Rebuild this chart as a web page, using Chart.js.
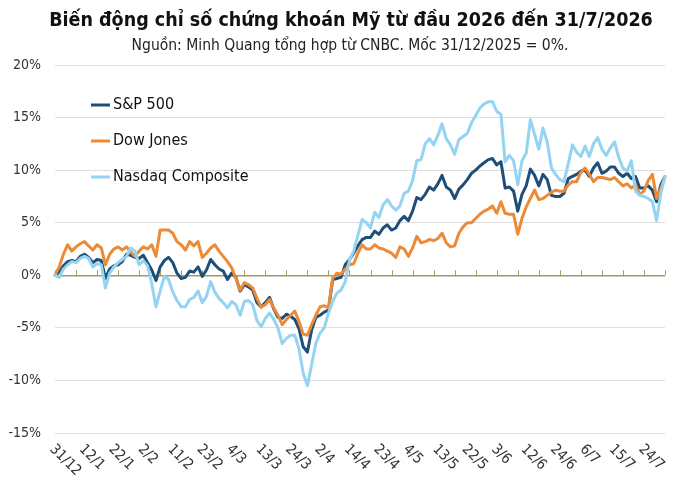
<!DOCTYPE html>
<html lang="vi">
<head>
<meta charset="utf-8">
<title>Biến động chỉ số chứng khoán Mỹ</title>
<script src="https://cdn.jsdelivr.net/npm/chart.js@4.4.1/dist/chart.umd.min.js"></script>
<style>
  html, body { margin: 0; padding: 0; background: #fff; }
  #khung { width: 700px; height: 490px; position: relative; }
</style>
</head>
<body>
<div id="khung"><canvas id="bieudo"></canvas></div>
<script>
// nhan truc hoanh, moi nhan cach nhau 7 phien
const nhanTruc = ["31/12", "12/1", "22/1", "2/2", "11/2", "23/2", "4/3", "13/3", "24/3", "2/4",
    "14/4", "23/4", "4/5", "13/5", "22/5", "3/6", "12/6", "24/6", "6/7", "15/7", "24/7"];
const buocNhan = 7;
const buocVach = 5;

const tenChuoi = ["S&P 500", "Dow Jones", "Nasdaq Composite"];

// % thay doi so voi 31/12/2025
const sp500 = [
    0, 0.3, 0.9, 1.3, 1.4, 1.3, 1.8, 2.0, 1.7, 1.2,
    1.5, 1.4, -0.3, 0.6, 0.9, 1.0, 1.3, 2.0, 1.9, 1.7,
    1.6, 1.9, 1.2, 0.5, -0.5, 0.8, 1.4, 1.7, 1.2, 0.2,
    -0.3, -0.2, 0.4, 0.3, 0.8, -0.1, 0.5, 1.5, 1.0, 0.6,
    0.4, -0.4, 0.2, -0.2, -1.5, -0.9, -1.1, -1.4, -2.6, -3.0,
    -2.6, -2.1, -3.2, -4.0, -4.1, -3.7, -3.9, -4.2, -5.1, -6.8,
    -7.3, -5.2, -4.0, -3.8, -3.5, -3.3, -0.4, -0.3, -0.2, 1.0,
    1.5, 2.1, 2.8, 3.4, 3.6, 3.6, 4.2, 3.9, 4.5, 4.8,
    4.3, 4.5, 5.2, 5.6, 5.2, 6.1, 7.4, 7.2, 7.7, 8.4,
    8.1, 8.7, 9.5, 8.4, 8.1, 7.3, 8.2, 8.6, 9.1, 9.7,
    10.0, 10.4, 10.7, 11.0, 11.1, 10.5, 10.8, 8.3, 8.4, 8.0,
    6.1, 7.7, 8.5, 10.1, 9.5, 8.5, 9.6, 9.1, 7.6, 7.5,
    7.5, 7.8, 9.2, 9.4, 9.6, 9.9, 10.0, 9.4, 10.2, 10.7,
    9.7, 9.9, 10.3, 10.3, 9.7, 9.4, 9.7, 9.2, 9.4, 8.3,
    8.3, 8.5, 8.1, 7.0, 8.6, 9.4
];
const dowJones = [
    0, 0.8, 2.0, 2.9, 2.3, 2.7, 3.0, 3.2, 2.8, 2.4,
    2.9, 2.6, 1.0, 2.0, 2.5, 2.7, 2.4, 2.7, 2.2, 1.8,
    2.3, 2.7, 2.5, 2.9, 1.8, 4.3, 4.3, 4.3, 4.0, 3.2,
    2.9, 2.4, 3.2, 2.8, 3.2, 1.7, 2.1, 2.6, 2.9, 2.3,
    1.8, 1.3, 0.7, -0.3, -1.4, -0.7, -0.9, -1.2, -2.2, -3.0,
    -2.8, -2.3, -3.1, -3.8, -4.7, -4.2, -3.8, -3.4, -4.4, -5.6,
    -5.7, -4.7, -3.8, -3.0, -2.9, -3.1, -0.3, 0.2, 0.1, 0.6,
    1.0, 1.1, 2.1, 2.9, 2.5, 2.5, 2.9, 2.6, 2.5, 2.3,
    2.1, 1.7, 2.7, 2.5, 1.8, 2.6, 3.7, 3.1, 3.2, 3.4,
    3.3, 3.5, 4.0, 3.1, 2.7, 2.8, 4.0, 4.6, 5.0, 5.0,
    5.4, 5.8, 6.1, 6.3, 6.6, 5.9, 7.0, 5.9, 5.8, 5.8,
    3.9, 5.4, 6.5, 7.3, 8.1, 7.2, 7.3, 7.6, 7.9, 8.1,
    8.0, 8.0, 8.6, 8.9, 8.9, 9.8, 10.2, 9.6, 8.9, 9.3,
    9.3, 9.2, 9.1, 9.3, 8.9, 8.5, 8.7, 8.3, 8.6, 7.7,
    8.0, 9.0, 9.6, 7.3, 8.3, 9.3
];
const nasdaq = [
    0, -0.2, 0.6, 1.0, 1.3, 1.2, 1.6, 1.8, 1.6, 0.8,
    1.1, 1.0, -1.2, 0.2, 0.8, 1.2, 1.5, 1.8, 2.6, 2.3,
    1.0, 1.4, 0.9, -0.8, -3.0, -1.5, -0.1, -0.4, -1.6, -2.4,
    -3.0, -3.0, -2.3, -2.1, -1.5, -2.6, -2.0, -0.6, -1.6, -2.2,
    -2.6, -3.1, -2.5, -2.8, -3.8, -2.5, -2.4, -2.8, -4.3, -4.9,
    -4.1, -3.6, -4.2, -5.0, -6.5, -6.0, -5.7, -5.7, -7.0, -9.3,
    -10.5, -8.5, -6.5, -5.5, -5.0, -3.6, -2.5, -1.7, -1.4, -0.6,
    1.5, 2.3, 3.8, 5.3, 5.0, 4.5, 6.0, 5.5, 6.7, 7.2,
    6.6, 6.2, 6.6, 7.8, 8.0, 9.0, 10.9, 11.0, 12.5, 13.0,
    12.4, 13.3, 14.4, 13.0, 12.4, 11.5, 12.9, 13.2, 13.5, 14.5,
    15.2, 15.9, 16.3, 16.5, 16.5, 15.6, 15.3, 10.8, 11.4, 10.9,
    8.6, 10.9, 11.6, 14.8, 13.4, 12.0, 14.0, 12.7, 10.2, 9.6,
    9.1, 8.9, 10.6, 12.4, 11.7, 11.3, 12.3, 11.3, 12.5, 13.1,
    12.0, 11.4, 12.1, 12.7, 11.2, 10.2, 9.9, 10.9, 8.0, 7.6,
    7.5, 7.3, 7.0, 5.2, 7.8, 9.4
];

const FONT = '"DejaVu Sans Condensed", "DejaVu Sans", sans-serif';

// moi phien mot nhan, chi phien thu 7 moi co chu
const nhanPhien = sp500.map((v, i) => (i % buocNhan === 0 ? (nhanTruc[i / buocNhan] || "") : ""));

// ve tieu de, chu giai, vach chia va nhan nghieng
const trangTri = {
    id: "trangTri",
    beforeDatasetsDraw(chart) {
        const ctx = chart.ctx;
        const x = chart.scales.x;
        const y0 = chart.scales.y.getPixelForValue(0);
        ctx.save();
        ctx.strokeStyle = "#a39a62";
        ctx.lineWidth = 1;
        for (let i = 0; i < nhanPhien.length; i += buocVach) {
            const px = Math.round(x.getPixelForValue(i)) + 0.5;
            ctx.beginPath();
            ctx.moveTo(px, y0);
            ctx.lineTo(px, y0 - 5);
            ctx.stroke();
        }
        ctx.restore();
    },
    afterDraw(chart) {
        const ctx = chart.ctx;
        const x = chart.scales.x;
        ctx.save();

        // tieu de
        ctx.fillStyle = "#111";
        ctx.textAlign = "center";
        ctx.textBaseline = "middle";
        ctx.font = "bold 19.5px " + FONT;
        ctx.fillText("Biến động chỉ số chứng khoán Mỹ từ đầu 2026 đến 31/7/2026", 351, 21);
        ctx.font = "15.5px " + FONT;
        ctx.fillStyle = "#222";
        ctx.fillText("Nguồn: Minh Quang tổng hợp từ CNBC. Mốc 31/12/2025 = 0%.", 350, 46);

        // chu giai
        ctx.textAlign = "left";
        ctx.font = "16px " + FONT;
        chart.data.datasets.forEach((ds, k) => {
            const ly = 105 + k * 36;
            ctx.strokeStyle = ds.borderColor;
            ctx.lineWidth = 3;
            ctx.beginPath();
            ctx.moveTo(91, ly);
            ctx.lineTo(110, ly);
            ctx.stroke();
            ctx.fillStyle = "#111";
            ctx.fillText(ds.label, 113, ly);
        });

        // nhan truc hoanh nghieng 45 do
        ctx.font = "14.5px " + FONT;
        ctx.fillStyle = "#333";
        nhanTruc.forEach((t, k) => {
            const px = x.getPixelForValue(k * buocNhan);
            ctx.save();
            ctx.translate(px - 3, 447);
            ctx.rotate(Math.PI / 4);
            ctx.fillText(t, 0, 0);
            ctx.restore();
        });
        ctx.restore();
    }
};

const ctx = document.getElementById("bieudo").getContext("2d");
const bieuDo = new Chart(ctx, {
    type: "line",
    data: {
        labels: nhanPhien,
        datasets: [
            { label: tenChuoi[0], data: sp500, borderColor: "#1f4e79", order: 3 },
            { label: tenChuoi[1], data: dowJones, borderColor: "#ec8a35", order: 2 },
            { label: tenChuoi[2], data: nasdaq, borderColor: "#94d3f1", order: 1 }
        ]
    },
    options: {
        responsive: true,
        maintainAspectRatio: false,
        animation: false,
        layout: { padding: { top: 65, right: 35, bottom: 0, left: 0 } },
        elements: {
            line: { borderWidth: 3, tension: 0, fill: false, borderJoinStyle: "round", borderCapStyle: "round" },
            point: { radius: 0, hoverRadius: 0 }
        },
        plugins: {
            legend: { display: false },
            title: { display: false },
            tooltip: { enabled: false }
        },
        scales: {
            x: {
                type: "category",
                offset: false,
                grid: { display: false },
                border: { display: false },
                ticks: { display: false },
                afterFit(scale) { scale.height = 57; }
            },
            y: {
                min: -15,
                max: 20,
                border: { display: false },
                grid: {
                    drawTicks: false,
                    color: (c) => (c.tick && c.tick.value === 0 ? "#a39a62" : "#dedede"),
                    lineWidth: (c) => (c.tick && c.tick.value === 0 ? 1.5 : 1)
                },
                ticks: {
                    stepSize: 5,
                    padding: 14,
                    color: "#333",
                    font: { family: FONT, size: 14 },
                    callback: (v) => v + "%"
                },
                afterFit(scale) { scale.width = 55; }
            }
        }
    },
    plugins: [trangTri]
});
</script>
</body>
</html>
